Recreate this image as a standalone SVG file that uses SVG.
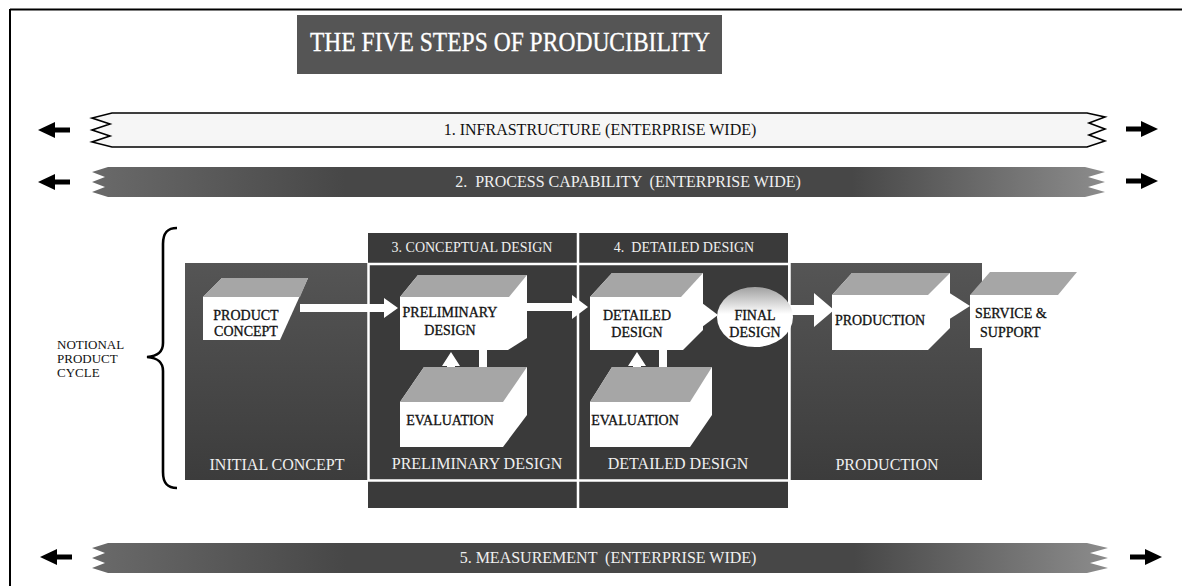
<svg xmlns="http://www.w3.org/2000/svg" width="1182" height="586" viewBox="0 0 1182 586">
  <defs>
    <style>
      text { font-family: "Liberation Serif", "Times New Roman", serif; }
      .lbl { font-size: 14px; fill: #111; stroke: #111; stroke-width: 0.3; text-anchor: middle; }
      .lbls { font-size: 14px; fill: #111; stroke: #111; stroke-width: 0.3; text-anchor: start; }
      .wl { font-size: 16px; fill: #f0f0f0; text-anchor: middle; }
      .hdr { font-size: 14px; fill: #f0f0f0; text-anchor: middle; }
      .band-t { font-size: 16px; text-anchor: middle; }
      .hdrbox { fill: #3a3a3a; }
      .white { fill: #ffffff; }
      .topf { fill: #a6a6a6; }
      .sep { stroke: #ffffff; stroke-width: 2.5; fill: none; }
      .blk { fill: #000; }
    </style>
    <linearGradient id="bandG" x1="0" y1="0" x2="1" y2="0">
      <stop offset="0" stop-color="#6a6a6a"/>
      <stop offset="0.25" stop-color="#474747"/>
      <stop offset="0.75" stop-color="#474747"/>
      <stop offset="1" stop-color="#8c8c8c"/>
    </linearGradient>
    <linearGradient id="ellG" x1="0" y1="0" x2="0" y2="1">
      <stop offset="0" stop-color="#a0a0a0"/>
      <stop offset="0.45" stop-color="#ffffff"/>
    </linearGradient>
    <linearGradient id="darkG" x1="0" y1="0" x2="0" y2="1">
      <stop offset="0" stop-color="#555555"/>
      <stop offset="1" stop-color="#3c3c3c"/>
    </linearGradient>
    <path id="arrL" d="M0,0 L17,-8 L17,-2.5 L32,-2.5 L32,2.5 L17,2.5 L17,8 Z"/>
    <path id="arrR" d="M0,0 L-17,-8 L-17,-2.5 L-32,-2.5 L-32,2.5 L-17,2.5 L-17,8 Z"/>
  </defs>

  <rect x="0" y="0" width="1182" height="586" fill="#ffffff"/>

  <!-- page border -->
  <g id="border">
    <line x1="10" y1="9.5" x2="1182" y2="9.5" stroke="#000" stroke-width="2"/>
    <line x1="10" y1="9" x2="10" y2="586" stroke="#000" stroke-width="2"/>
  </g>

  <!-- title -->
  <g id="title">
    <rect x="297" y="15" width="425" height="59" fill="#555555"/>
    <text x="510" y="51" font-size="27" fill="#ffffff" stroke="#ffffff" stroke-width="0.3" text-anchor="middle" textLength="400" lengthAdjust="spacingAndGlyphs">THE FIVE STEPS OF PRODUCIBILITY</text>
  </g>

  <!-- band 1 -->
  <g id="band1">
    <polygon points="112,113 1087,113 1105,117 1089,123 1105,129 1089,135 1105,141 1087,147 112,147 92,142 110,136 92,130 110,124 92,118" fill="#f6f6f6" stroke="#000" stroke-width="1.6"/>
    <text class="band-t" x="600" y="135" fill="#111">1. INFRASTRUCTURE (ENTERPRISE WIDE)</text>
  </g>

  <!-- band 2 -->
  <g id="band2">
    <polygon points="108,167 1085,167 1105,172 1088,177 1105,182 1088,187 1105,192 1085,197 108,197 92,192 105,187 92,182 105,177 92,172" fill="url(#bandG)"/>
    <text class="band-t" x="628" y="187" fill="#f0f0f0" xml:space="preserve">2.  PROCESS CAPABILITY  (ENTERPRISE WIDE)</text>
  </g>

  <!-- band 5 -->
  <g id="band5">
    <polygon points="108,543 1087,543 1108,548 1090,553 1108,558 1090,563 1108,568 1087,573 108,573 92,568 105,563 92,558 105,553 92,548" fill="url(#bandG)"/>
    <text class="band-t" x="608" y="563" fill="#f0f0f0" xml:space="preserve">5. MEASUREMENT  (ENTERPRISE WIDE)</text>
  </g>

  <!-- side arrows -->
  <g id="side-arrows" class="blk">
    <use href="#arrL" x="38" y="130"/>
    <use href="#arrR" x="1158" y="129"/>
    <use href="#arrL" x="38" y="182"/>
    <use href="#arrR" x="1158" y="181"/>
    <use href="#arrL" x="40" y="557"/>
    <use href="#arrR" x="1162" y="557"/>
  </g>

  <!-- notional product cycle -->
  <g id="notional">
    <text x="57" y="349" font-size="13" fill="#111">NOTIONAL</text>
    <text x="57" y="363" font-size="13" fill="#111">PRODUCT</text>
    <text x="57" y="377" font-size="13" fill="#111">CYCLE</text>
    <path d="M177,228 C167,228 163,233 163,244 L163,343 C163,352 158,356 147,357 C158,358 163,362 163,371 L163,472 C163,483 167,488 177,488" fill="none" stroke="#000" stroke-width="2.6"/>
  </g>

  <!-- phase panels -->
  <g id="panels">
    <rect x="185" y="263" width="184" height="217" fill="url(#darkG)"/>
    <rect class="hdrbox" x="368" y="233" width="420" height="275"/>
    <rect x="789" y="263" width="193" height="217" fill="url(#darkG)"/>
    <line class="sep" x1="368.5" y1="263" x2="368.5" y2="480"/>
    <line class="sep" x1="578" y1="233" x2="578" y2="508"/>
    <line class="sep" x1="789.5" y1="263" x2="789.5" y2="480"/>
    <line class="sep" x1="368" y1="264" x2="789" y2="264"/>
    <line class="sep" x1="368" y1="480.5" x2="789" y2="480.5"/>
    <text class="hdr" x="472" y="252">3. CONCEPTUAL DESIGN</text>
    <text class="hdr" x="684" y="252" xml:space="preserve">4.  DETAILED DESIGN</text>
    <text class="wl" x="277" y="470">INITIAL CONCEPT</text>
    <text class="wl" x="477" y="469">PRELIMINARY DESIGN</text>
    <text class="wl" x="678" y="469">DETAILED DESIGN</text>
    <text class="wl" x="887" y="470">PRODUCTION</text>
  </g>

  <!-- connectors -->
  <g id="connectors" fill="#ffffff">
    <polygon points="300,304 384,304 384,298 398,308 384,318 384,312 300,312"/>
    <polygon points="525,303 572,303 572,295 588,307 572,319 572,311 525,311"/>
    <polygon points="698,300 718,315 698,330"/>
    <polygon points="788,305 814,305 814,293 834,310 814,327 814,315 788,315"/>
    <polygon points="948,292 970,306 948,320"/>
    <polygon points="451,352 460,366 455,366 455,386 447,386 447,366 442,366"/>
    <polygon points="483,382 474,368 479,368 479,350 487,350 487,368 492,368"/>
    <polygon points="637,352 646,366 641,366 641,386 633,386 633,366 628,366"/>
    <polygon points="663,382 654,368 659,368 659,350 667,350 667,368 672,368"/>
  </g>

  <!-- nodes -->
  <g id="product-concept">
    <polygon class="white" points="203,297 222,278 308,278 280,340 203,340"/>
    <polygon class="topf" points="203,297 222,278 308,278 300,297"/>
    <text class="lbl" x="246" y="320">PRODUCT</text>
    <text class="lbl" x="246" y="336">CONCEPT</text>
  </g>

  <g id="preliminary-design">
    <polygon class="white" points="400,297 418,275 527,275 527,338 508,350 400,350"/>
    <polygon class="topf" points="400,297 418,275 527,275 509,297"/>
    <text class="lbl" x="450" y="317">PRELIMINARY</text>
    <text class="lbl" x="450" y="335">DESIGN</text>
  </g>

  <g id="evaluation-1">
    <polygon class="white" points="400,402 424,367 527,367 527,415 503,447 400,447"/>
    <polygon class="topf" points="400,402 424,367 527,367 503,402"/>
    <text class="lbl" x="450" y="425">EVALUATION</text>
  </g>

  <g id="detailed-design">
    <polygon class="white" points="590,297 612,273 703,273 703,330 683,350 590,350"/>
    <polygon class="topf" points="590,297 612,273 703,273 681,297"/>
    <text class="lbl" x="637" y="320">DETAILED</text>
    <text class="lbl" x="637" y="337">DESIGN</text>
  </g>

  <g id="evaluation-2">
    <polygon class="white" points="590,402 612,367 712,367 712,415 690,447 590,447"/>
    <polygon class="topf" points="590,402 612,367 712,367 690,402"/>
    <text class="lbl" x="635" y="425">EVALUATION</text>
  </g>

  <g id="final-design">
    <ellipse cx="755" cy="317" rx="38" ry="30" fill="url(#ellG)"/>
    <text class="lbl" x="755" y="320">FINAL</text>
    <text class="lbl" x="755" y="337">DESIGN</text>
  </g>

  <g id="production">
    <polygon class="white" points="832,295 852,273 950,273 950,328 928,350 832,350"/>
    <polygon class="topf" points="832,295 852,273 950,273 928,295"/>
    <text class="lbl" x="880" y="325">PRODUCTION</text>
  </g>

  <g id="service-support">
    <polygon class="topf" points="970,295 990,272 1077,272 1058,295"/>
    <rect class="white" x="970" y="295" width="88" height="53"/>
    <text class="lbls" x="975" y="318">SERVICE &amp;</text>
    <text class="lbls" x="980" y="337">SUPPORT</text>
  </g>
</svg>
